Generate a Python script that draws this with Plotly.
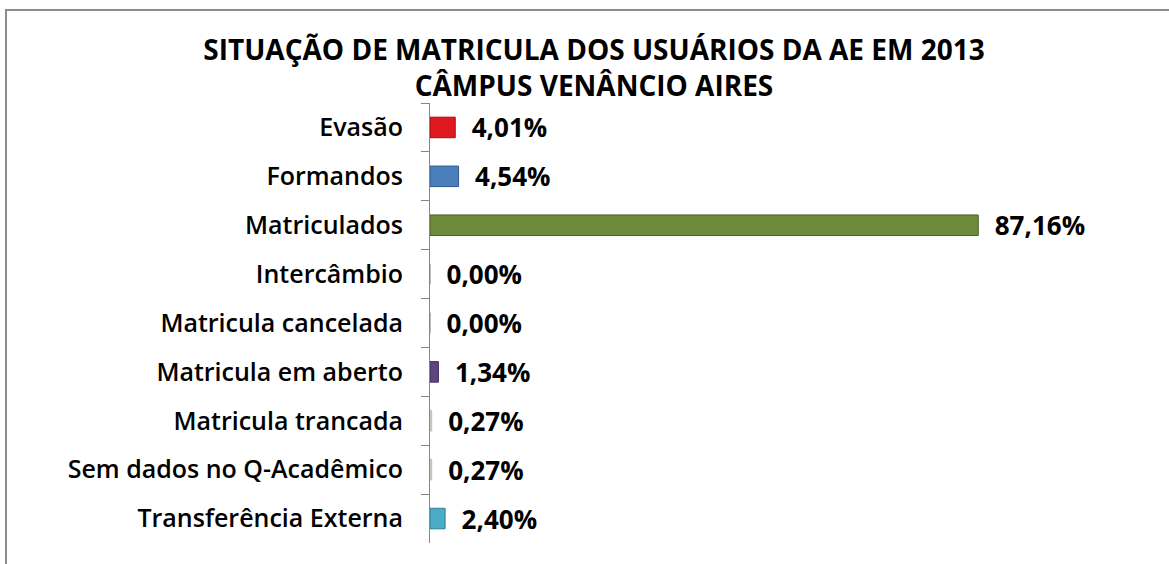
import plotly.graph_objects as go

categories = ["Evasão", "Formandos", "Matriculados", "Intercâmbio", "Matricula cancelada",
              "Matricula em aberto", "Matricula trancada", "Sem dados no Q-Acadêmico",
              "Transferência Externa"]
values = [4.01, 4.54, 87.16, 0.00, 0.00, 1.34, 0.27, 0.27, 2.40]
colors = ["#E0181F", "#4A7EBB", "#6E8B3D", "#A6A6A6", "#A6A6A6", "#5E4580", "#DDD6CE", "#DDD6CE", "#4BACC6"]
line_colors = ["#9A1016", "#2F5A8E", "#4A6126", "#A6A6A6", "#A6A6A6", "#40305A", "#C4BBB2", "#C4BBB2", "#2E7F94"]
labels = ["\u00a0\u00a0" + f"{v:.2f}%".replace(".", ",") for v in values]

W, H = 1169, 564
ML, MR, MT, MB = 430, 110, 103, 21
pw, ph = W - ML - MR, H - MT - MB

fig = go.Figure(go.Bar(
    y=categories, x=values, orientation="h",
    marker=dict(color=colors, line=dict(color=line_colors, width=1)),
    width=0.42,
    text=labels, textposition="outside", cliponaxis=False, constraintext="none",
    textfont=dict(family="Open Sans", size=26, color="#000000", weight="bold"),
))

def px_x(p):
    return (p - ML) / pw

def px_y(p):
    return (H - MB - p) / ph

fig.add_shape(type="rect", xref="paper", yref="paper",
              x0=px_x(6), x1=px_x(1180), y0=px_y(575), y1=px_y(10),
              line=dict(color="#8C8C8C", width=2), fillcolor="rgba(0,0,0,0)", layer="below")

fig.update_layout(
    width=W, height=H,
    margin=dict(l=ML, r=MR, t=MT, b=MB, autoexpand=False),
    paper_bgcolor="white", plot_bgcolor="white",
    showlegend=False,
    title=dict(text="SITUAÇÃO DE MATRICULA DOS USUÁRIOS DA AE EM 2013<br>CÂMPUS VENÂNCIO AIRES",
               x=594 / W, xanchor="center", xref="container",
               y=1 - 60 / H, yanchor="top", yref="container",
               font=dict(family="Open Sans", size=28, color="#000000", weight="bold")),
    xaxis=dict(range=[0, 100], visible=False, showgrid=False, zeroline=False),
    yaxis=dict(autorange="reversed", showline=True, linecolor="#868686", linewidth=1,
               ticks="outside", ticklen=8, tickcolor="#868686", tickson="boundaries",
               ticklabelstandoff=21, showgrid=False,
               tickfont=dict(family="Open Sans", size=25, color="#000000", weight=600)),
    bargap=0.55,
)

fig.write_html("out.html", config={"displayModeBar": False},
               post_script="document.body.style.margin='0';document.body.style.overflow='hidden';")
